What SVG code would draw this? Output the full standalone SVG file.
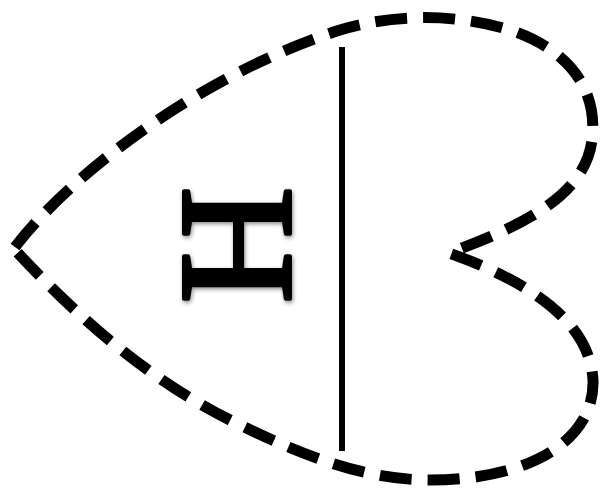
<svg xmlns="http://www.w3.org/2000/svg" width="602" height="489" viewBox="0 0 602 489">
<defs>
<style>
.outline{fill:none;stroke:#000;stroke-width:11;stroke-dasharray:32 16;stroke-linejoin:miter}
.divider{stroke:#000;stroke-width:6}
.label{font-family:"Liberation Serif","Times New Roman",serif;font-size:162px;fill:#000;stroke:#000;stroke-width:4;stroke-linejoin:round}
</style>
<filter id="sh" x="-20%" y="-20%" width="140%" height="140%">
<feDropShadow dx="1" dy="2" stdDeviation="2" flood-color="#000" flood-opacity="0.45"/>
</filter>
</defs>
<g id="heart">
<path class="outline" d="M 15 247 C 70 175, 200 75, 340 30 C 390 15, 450 12, 510 30 C 570 50, 598 90, 592 140 C 585 195, 525 225, 449 253 C 525 280, 590 320, 593 380 C 595 440, 530 480, 430 480 C 370 480, 310 460, 230 420 C 150 380, 80 320, 15 250 Z"/>
</g>
<g id="connectors">
<line class="divider" x1="342" y1="47" x2="342" y2="451"/>
</g>
<g id="label-H" filter="url(#sh)">
<text class="label" transform="translate(238,245) rotate(90)" x="0" y="54" text-anchor="middle">H</text>
</g>
</svg>
